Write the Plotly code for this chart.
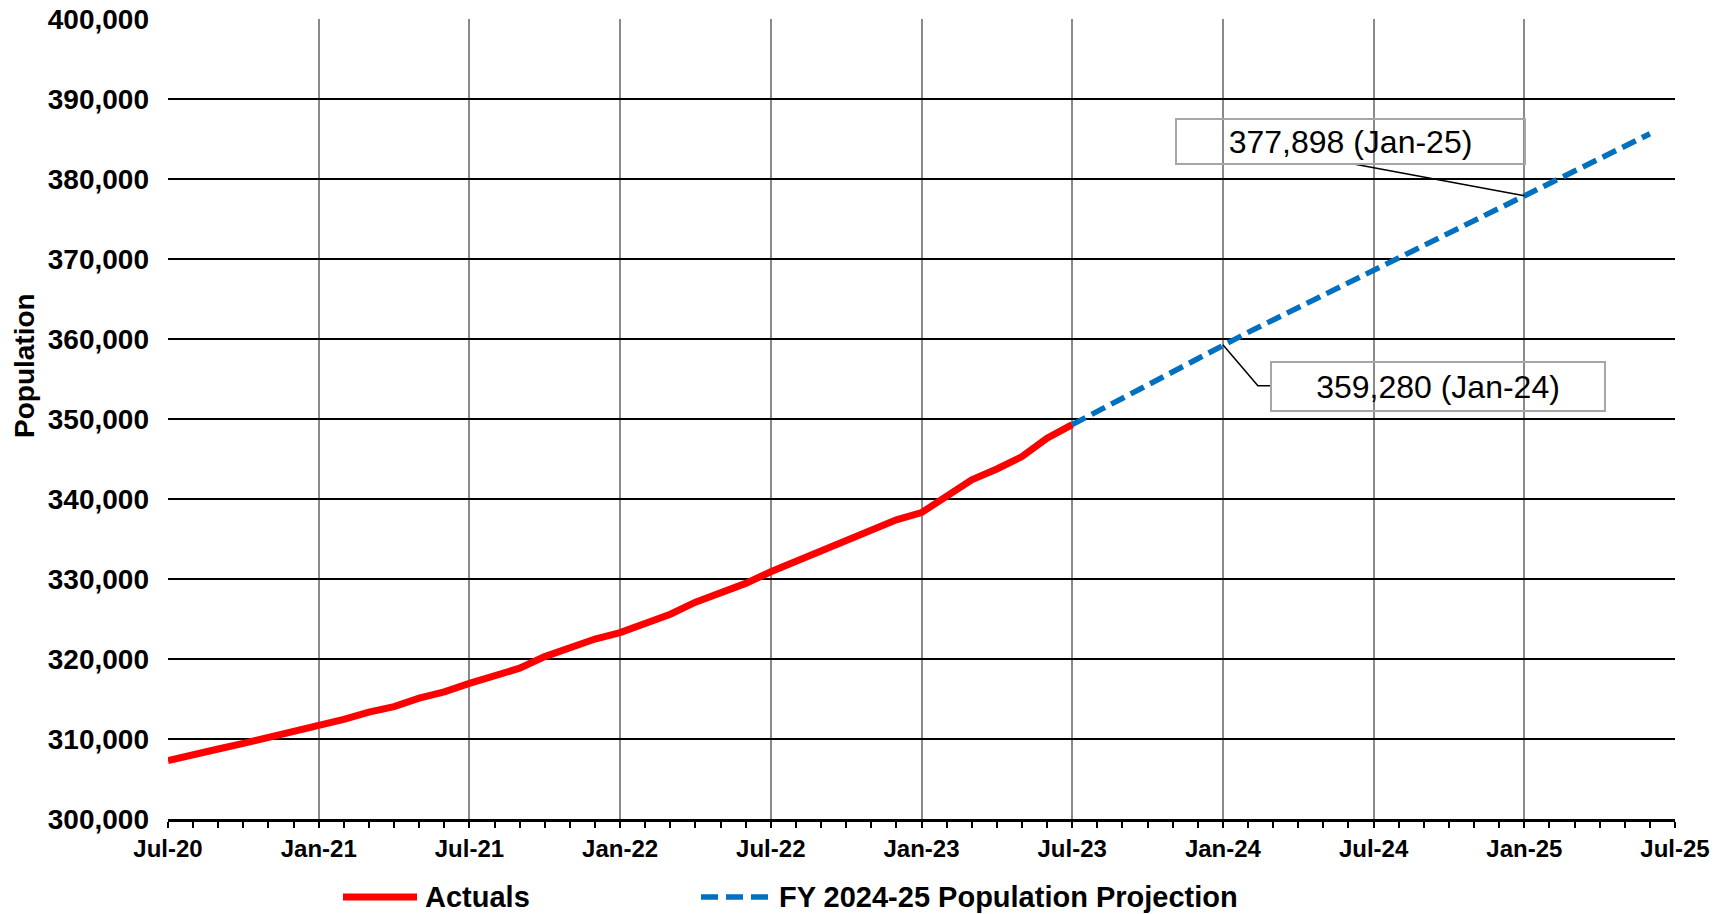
import pandas as pd
import plotly.graph_objects as go

# Monthly categories, Jul-20 through Jul-25
months = list(pd.period_range("2020-07", "2025-07", freq="M").strftime("%b-%y"))
actual_months = months[0:37]        # Jul-20 .. Jul-23
projection_months = months[36:60]   # Jul-23 .. Jun-25

actuals = [
    307300, 308100, 308750, 309450, 310150, 311000,   # Jul-20 .. Dec-20
    311650, 312450, 313350, 314050, 315100, 315900,   # Jan-21 .. Jun-21
    316950, 317850, 318850, 320300, 321350, 322500,   # Jul-21 .. Dec-21
    323300, 324400, 325600, 327100, 328200, 329450,   # Jan-22 .. Jun-22
    330900, 332200, 333300, 334800, 335900, 337400,   # Jul-22 .. Dec-22
    338300, 340400, 342400, 343750, 345300, 347600,   # Jan-23 .. Jun-23
    349300,                                           # Jul-23
]

projection = [
    349300, 350960, 352630, 354290, 355950, 357620,   # Jul-23 .. Dec-23
    359280, 360830, 362380, 363940, 365490, 367040,   # Jan-24 .. Jun-24
    368590, 370140, 371690, 373240, 374800, 376350,   # Jul-24 .. Dec-24
    377898, 379450, 381000, 382550, 384100, 385650,   # Jan-25 .. Jun-25
]

tick_labels = ["Jul-20", "Jan-21", "Jul-21", "Jan-22", "Jul-22", "Jan-23",
               "Jul-23", "Jan-24", "Jul-24", "Jan-25", "Jul-25"]
callout_months = ["Jan-24", "Jan-25"]

# Page geometry (pixels)
W, H = 1728, 914
ML, MR, MT, MB = 168, 53, 19, 95
PW, PH = W - ML - MR, H - MT - MB
FONT = "Liberation Sans, Arial, sans-serif"


def paper(px, py):
    return (px - ML) / PW, (H - MB - py) / PH


actual_x = [months.index(m) for m in actual_months]
proj_x = [months.index(m) for m in projection_months]

fig = go.Figure()
fig.add_trace(go.Scatter(
    x=actual_x, y=actuals, mode="lines", name="Actuals",
    line=dict(color="#FF0000", width=7), showlegend=False,
))
fig.add_trace(go.Scatter(
    x=proj_x, y=projection, mode="lines", name="FY 2024-25 Population Projection",
    line=dict(color="#0070C0", width=5.5, dash="15px,7px"), showlegend=False,
))

annotations = []
shapes = []

# Callout boxes with leader lines
callout_style = {
    "Jan-24": dict(xshift=215, yshift=-42, w=332, h=47,
                   path="M0,0 L35,-41 L48,-41"),
    "Jan-25": dict(xshift=-174, yshift=54, w=347, h=43,
                   path="M0,0 L-172,32"),
}
for m in callout_months:
    i = proj_x[projection_months.index(m)]
    v = projection[projection_months.index(m)]
    st = callout_style[m]
    annotations.append(dict(
        x=i, y=v, xref="x", yref="y", showarrow=False,
        text=f"{v:,} ({m})", xshift=st["xshift"], yshift=st["yshift"],
        width=st["w"], height=st["h"], align="center", valign="middle",
        bordercolor="#a6a6a6", borderwidth=2, borderpad=0,
        font=dict(family=FONT, size=32, color="black"),
    ))
    shapes.append(dict(
        type="path", xref="x", yref="y",
        xsizemode="pixel", ysizemode="pixel", xanchor=i, yanchor=v,
        path=st["path"], line=dict(color="black", width=1.5),
    ))

# Y axis title
tx, ty = paper(24, 366)
annotations.append(dict(
    x=tx, y=ty, xref="paper", yref="paper", showarrow=False,
    text="<b>Population</b>", textangle=-90, xanchor="center", yanchor="middle",
    font=dict(family=FONT, size=28, color="black"),
))

# Legend drawn beneath the axis
legend_y = 897
x0, y0 = paper(343, legend_y)
x1, _ = paper(417, legend_y)
shapes.append(dict(type="line", xref="paper", yref="paper", x0=x0, x1=x1, y0=y0, y1=y0,
                   line=dict(color="#FF0000", width=7)))
lx, _ = paper(423, legend_y)
annotations.append(dict(x=lx, y=y0, xref="paper", yref="paper", showarrow=False,
                        text="<b>Actuals</b>", xanchor="left", yanchor="middle",
                        font=dict(family=FONT, size=29, color="black")))
x0, _ = paper(701, legend_y)
x1, _ = paper(768, legend_y)
shapes.append(dict(type="line", xref="paper", yref="paper", x0=x0, x1=x1, y0=y0, y1=y0,
                   line=dict(color="#0070C0", width=5.5, dash="17px,8px")))
lx, _ = paper(777, legend_y)
annotations.append(dict(x=lx, y=y0, xref="paper", yref="paper", showarrow=False,
                        text="<b>FY 2024-25 Population Projection</b>",
                        xanchor="left", yanchor="middle",
                        font=dict(family=FONT, size=29, color="black")))

fig.update_layout(
    width=W, height=H,
    margin=dict(l=ML, r=MR, t=MT, b=MB, pad=0, autoexpand=False),
    paper_bgcolor="white", plot_bgcolor="white",
    showlegend=False,
    annotations=annotations, shapes=shapes,
    xaxis=dict(
        range=[0, 60], automargin=False,
        tickvals=[months.index(t) for t in tick_labels], ticktext=tick_labels,
        showgrid=True, gridcolor="#8a8a8a", gridwidth=1.5,
        showline=True, linecolor="black", linewidth=2.5,
        ticks="outside", ticklen=6, tickwidth=2, tickcolor="black",
        minor=dict(dtick=1, tick0=0, ticks="outside", ticklen=6, tickwidth=2,
                   tickcolor="black", showgrid=False),
        zeroline=False,
        tickfont=dict(family=FONT, size=24, color="black", weight="bold"),
    ),
    yaxis=dict(
        range=[300000, 400000], dtick=10000, tickformat=",", automargin=False,
        showgrid=True, gridcolor="black", gridwidth=2,
        showline=False, zeroline=False, ticks="",
        ticklabelstandoff=18,
        tickfont=dict(family=FONT, size=28, color="black", weight="bold"),
    ),
)

fig.write_html("out.html")
